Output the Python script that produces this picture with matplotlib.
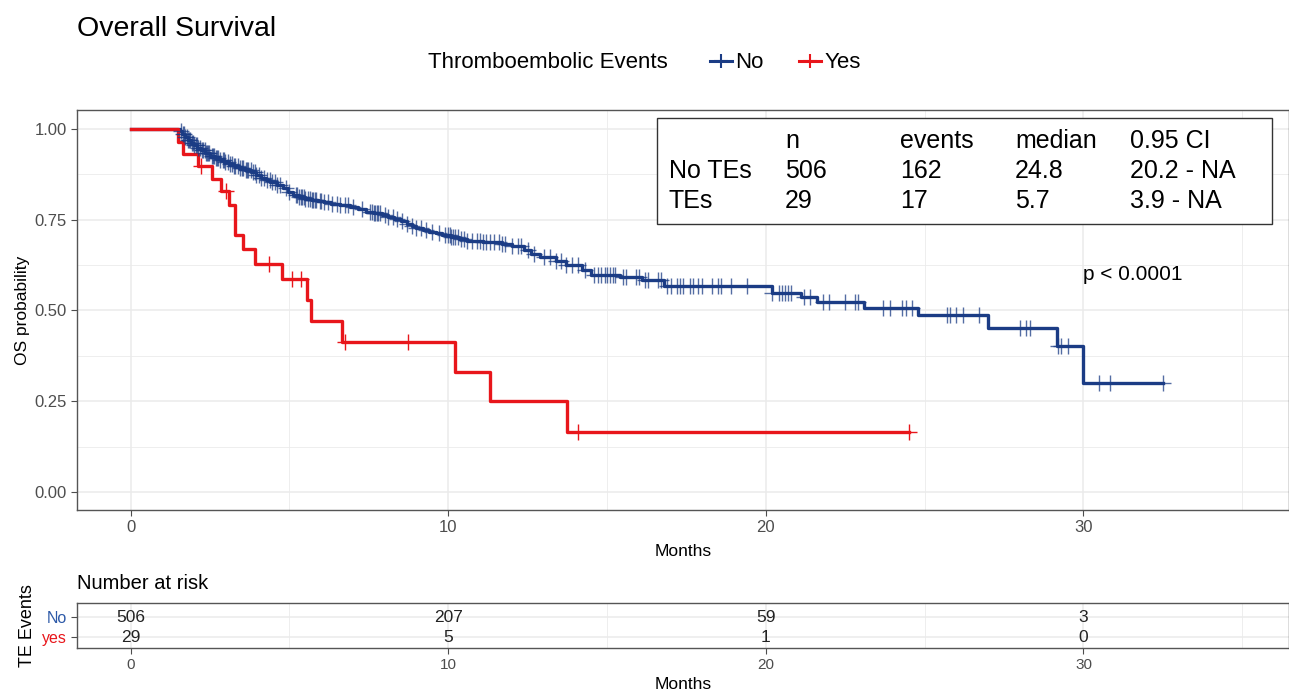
import numpy as np
import matplotlib.pyplot as plt
from matplotlib.lines import Line2D
from matplotlib.patches import Rectangle

plt.rcParams['font.family'] = ['Liberation Sans', 'DejaVu Sans']

# Kaplan-Meier steps: months, survival after the step
no_times = [0, 1.55, 1.62, 1.7, 1.8, 1.9, 2.0, 2.1, 2.2, 2.35,
            2.5, 2.65, 2.8, 2.95, 3.1, 3.25, 3.4, 3.6, 3.8, 3.95,
            4.1, 4.25, 4.4, 4.6, 4.8, 4.95, 5.1, 5.3, 5.5, 5.7,
            5.9, 6.1, 6.3, 6.6, 6.9, 7.15, 7.4, 7.65, 7.9, 8.1,
            8.3, 8.5, 8.7, 8.85, 9.0, 9.2, 9.4, 9.6, 9.8, 10.1,
            10.35, 10.6, 11.1, 11.7, 12.0, 12.4, 12.6, 12.9, 13.4, 13.7,
            14.2, 14.5, 15.4, 16.1, 16.8, 20.2, 21.1, 21.6, 23.1, 24.8,
            27.0, 29.15, 30.0]
no_surv = [1.0, 0.993, 0.985, 0.977, 0.969, 0.962, 0.955, 0.948, 0.941, 0.933,
           0.926, 0.919, 0.913, 0.908, 0.904, 0.899, 0.893, 0.887, 0.880, 0.873,
           0.866, 0.860, 0.853, 0.845, 0.836, 0.826, 0.817, 0.812, 0.808, 0.804,
           0.801, 0.798, 0.794, 0.789, 0.784, 0.778, 0.772, 0.767, 0.762, 0.757,
           0.751, 0.745, 0.739, 0.733, 0.727, 0.721, 0.716, 0.712, 0.708, 0.701,
           0.696, 0.692, 0.688, 0.684, 0.678, 0.665, 0.656, 0.648, 0.637, 0.625,
           0.611, 0.598, 0.591, 0.584, 0.567, 0.547, 0.538, 0.524, 0.506, 0.486,
           0.451, 0.402, 0.301]
no_end = 32.5
no_censor = [1.6, 1.65, 1.68, 1.72, 1.76, 1.8, 1.84, 1.88, 1.92, 1.95, 2.0,
             2.05, 2.08, 2.12, 2.17, 2.25, 2.29, 2.33, 2.37, 2.4, 2.44, 2.48,
             2.55, 2.6, 2.64, 2.68, 2.72, 2.75, 2.82, 2.9, 2.94, 2.98, 3.05,
             3.12, 3.2, 3.25, 3.3, 3.38, 3.45, 3.5, 3.55, 3.62, 3.66, 3.7, 3.78,
             3.85, 3.9, 3.95, 4.05, 4.12, 4.2, 4.3, 4.38, 4.45, 4.55, 4.6, 4.7,
             4.9, 5.0, 5.2, 5.25, 5.3, 5.35, 5.4, 5.45, 5.5, 5.6, 5.65, 5.7,
             5.75, 5.8, 5.85, 5.95, 6.0, 6.1, 6.2, 6.35, 6.5, 6.6, 6.75, 6.85,
             7.0, 7.3, 7.55, 7.6, 7.65, 7.7, 7.75, 7.8, 7.85, 8.0, 8.1, 8.25,
             8.4, 8.55, 8.7, 8.85, 9.0, 9.15, 9.3, 9.5, 9.7, 9.9, 10.0, 10.05,
             10.1, 10.15, 10.2, 10.3, 10.4, 10.5, 10.6, 10.75, 10.9, 11.0, 11.1,
             11.2, 11.3, 11.45, 11.6, 11.7, 11.8, 12.0, 12.2, 12.3, 12.5, 12.7,
             13.0, 13.2, 13.4, 13.55, 13.7, 13.9, 14.1, 14.3, 14.6, 14.7, 14.8,
             14.95, 15.0, 15.1, 15.2, 15.25, 15.5, 15.6, 15.9, 16.0, 16.2, 16.3,
             16.6, 16.7, 16.9, 17.0, 17.2, 17.3, 17.4, 17.6, 17.7, 17.85, 18.0,
             18.3, 18.5, 18.6, 18.9, 19.4, 20.2, 20.4, 20.5, 20.6, 20.7, 20.8,
             21.2, 21.4, 21.8, 22.0, 22.5, 22.8, 22.9, 23.7, 23.9, 24.3, 24.4,
             24.6, 25.7, 25.8, 26.0, 26.2, 26.7, 28.0, 28.2, 28.3, 29.2, 29.3,
             29.5, 30.5, 30.85, 32.5]

yes_times = [0, 1.50, 1.66, 2.13, 2.57, 2.86, 3.1, 3.28, 3.55, 3.91,
             4.78, 5.56, 5.67, 6.66, 10.22, 11.33, 13.74]
yes_surv = [1.0, 0.965, 0.931, 0.897, 0.862, 0.828, 0.789, 0.708, 0.668, 0.628,
            0.587, 0.529, 0.471, 0.413, 0.330, 0.249, 0.166]
yes_end = 24.52
yes_censor = [2.2, 3.0, 4.35, 5.07, 5.36, 6.75, 8.74, 14.09, 24.52]

risk_times = [0, 10, 20, 30]
risk_no = [506, 207, 59, 3]
risk_yes = [29, 5, 1, 0]

table_header = ['', 'n', 'events', 'median', '0.95 CI']
table_rows = [['No TEs', '506', '162', '24.8', '20.2 - NA'],
              ['TEs', '29', '17', '5.7', '3.9 - NA']]

BLUE = '#1B3C85'
RED = '#E8161B'
GRID = '#EBEBEB'
BORDER = '#555555'
TICK = '#4D4D4D'


def surv_at(times, surv, t):
    idx = np.searchsorted(times, t, side='right') - 1
    return np.asarray(surv)[idx]


def style_axes(ax):
    for s in ax.spines.values():
        s.set_color(BORDER)
        s.set_linewidth(1.0)
    ax.grid(which='major', color=GRID, lw=1.1)
    ax.grid(which='minor', color=GRID, lw=0.6)
    ax.set_axisbelow(True)
    ax.tick_params(which='major', color=TICK, length=4, width=0.8,
                   labelcolor=TICK, labelsize=12)
    ax.tick_params(which='minor', length=0)


fig = plt.figure(figsize=(12.89, 6.91), dpi=100)
ax = fig.add_axes([0.0597, 0.2619, 0.9403, 0.5789])
style_axes(ax)

ax.step(no_times + [no_end], no_surv + [no_surv[-1]], where='post', color=BLUE, lw=2.4)
ax.step(yes_times + [yes_end], yes_surv + [yes_surv[-1]], where='post', color=RED, lw=2.4)
ax.plot(no_censor, surv_at(no_times, no_surv, no_censor), ls='none', marker='+',
        ms=11, mew=1.0, color=BLUE, alpha=0.75)
ax.plot(yes_censor, surv_at(yes_times, yes_surv, yes_censor), ls='none', marker='+',
        ms=11, mew=1.0, color=RED)

ax.set_xlim(-1.69, 36.47)
ax.set_ylim(-0.05, 1.052)
ax.set_xticks([0, 10, 20, 30])
ax.set_xticks([5, 15, 25, 35], minor=True)
ax.set_yticks([0, 0.25, 0.5, 0.75, 1.0])
ax.set_yticklabels(['0.00', '0.25', '0.50', '0.75', '1.00'])
ax.set_yticks([0.125, 0.375, 0.625, 0.875], minor=True)
ax.set_xlabel('Months', fontsize=12.5, labelpad=6)
ax.set_ylabel('OS probability', fontsize=12.5, labelpad=3)

# summary table box
ax.add_patch(Rectangle((0.4786, 0.715), 0.5074, 0.265, transform=ax.transAxes,
                       facecolor='white', edgecolor='#333333', lw=1.0, zorder=5))
col_x = [0.4884, 0.5842, 0.679, 0.7739, 0.8688]
row_y = [0.9225, 0.8475, 0.7725]
for r, row in enumerate([table_header] + table_rows):
    for c, txt in enumerate(row):
        ax.text(col_x[c], row_y[r], txt, transform=ax.transAxes, fontsize=18,
                ha='left', va='center', color='black', zorder=6)

ax.text(30.0, 0.598, 'p < 0.0001', fontsize=15, ha='left', va='center')

# title and legend
fig.text(77 / 1289, 1 - 29 / 691, 'Overall Survival', fontsize=20.5, ha='left', va='center')
fig.text(428 / 1289, 1 - 63 / 691, 'Thromboembolic Events', fontsize=16, ha='left', va='center')
handles = [Line2D([], [], color=BLUE, lw=2.2, marker='+', ms=10, mew=1.5),
           Line2D([], [], color=RED, lw=2.2, marker='+', ms=10, mew=1.5)]
fig.legend(handles, ['No', 'Yes'], ncol=2, loc='center left', frameon=False,
           bbox_to_anchor=(694 / 1289, 1 - 63 / 691), fontsize=16,
           handlelength=1.0, handletextpad=0.15, columnspacing=1.6,
           borderpad=0.2)

# number at risk table
ax2 = fig.add_axes([0.0597, 0.0622, 0.9403, 0.0651])
style_axes(ax2)
ax2.set_xlim(-1.69, 36.47)
ax2.set_ylim(0.45, 2.7)
ax2.set_xticks([0, 10, 20, 30])
ax2.set_xticks([5, 15, 25, 35], minor=True)
ax2.set_yticks([2, 1])
ax2.set_yticklabels(['No', 'yes'], fontsize=11.5)
ax2.get_yticklabels()[0].set_color('#2E5AA8')
ax2.get_yticklabels()[1].set_color(RED)
ax2.tick_params(axis='x', labelsize=11)
for t, n_no, n_yes in zip(risk_times, risk_no, risk_yes):
    ax2.text(t, 2, str(n_no), ha='center', va='center', fontsize=12.5, color='#222222')
    ax2.text(t, 1, str(n_yes), ha='center', va='center', fontsize=12.5, color='#222222')
ax2.set_xlabel('Months', fontsize=12.5, labelpad=3)
ax2.set_ylabel('TE Events', fontsize=13, labelpad=4)
ax2.text(0, 1.22, 'Number at risk', transform=ax2.transAxes, fontsize=14.5,
         ha='left', va='bottom')

fig.savefig('out.png', dpi=100)
